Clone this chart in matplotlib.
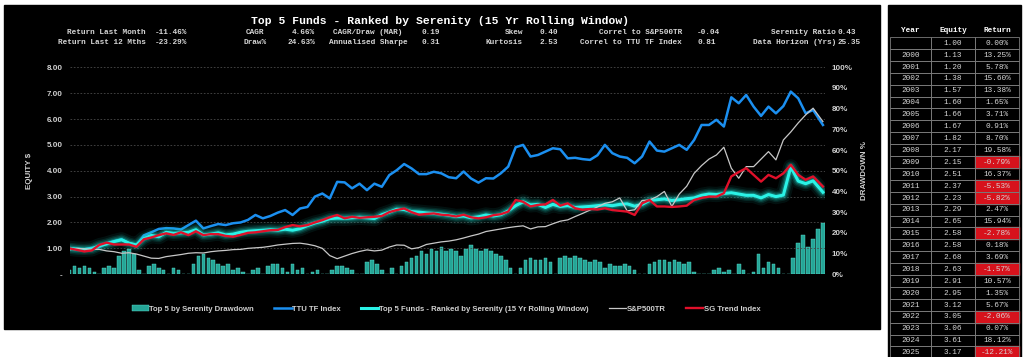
import numpy as np
import matplotlib.pyplot as plt
from matplotlib.patches import Rectangle
from matplotlib.ticker import FuncFormatter, MultipleLocator

# quarterly equity, 2000.00 .. 2025.00, then last point (Apr 2025)
serenity = [1.00, 0.97, 0.96, 0.98, 1.10, 1.17, 1.26, 1.33, 1.20, 1.13, 1.38, 1.50,
            1.45, 1.62, 1.58, 1.60, 1.62, 1.72, 1.52, 1.55, 1.60, 1.52, 1.55, 1.62,
            1.66, 1.68, 1.70, 1.72, 1.70, 1.74, 1.70, 1.76, 1.88, 1.98, 2.05, 2.15,
            2.17, 2.16, 2.18, 2.20, 2.18, 2.15, 2.30, 2.40, 2.51, 2.50, 2.42, 2.40,
            2.37, 2.35, 2.32, 2.28, 2.23, 2.25, 2.18, 2.22, 2.29, 2.25, 2.30, 2.45,
            2.65, 2.80, 2.68, 2.70, 2.58, 2.70, 2.62, 2.65, 2.58, 2.60, 2.62, 2.65,
            2.68, 2.65, 2.70, 2.72, 2.63, 2.70, 2.85, 2.88, 2.91, 2.85, 2.88, 2.92,
            2.95, 3.05, 3.10, 3.08, 3.12, 3.15, 3.10, 3.05, 3.05, 2.95, 3.08, 3.00,
            3.06, 4.15, 3.60, 3.50, 3.61, 3.17]
ttu_index = [1.00, 0.97, 0.96, 1.02, 1.05, 1.20, 1.28, 1.35, 1.20, 1.13, 1.50, 1.62,
             1.75, 1.78, 1.77, 1.73, 1.90, 2.07, 1.77, 1.86, 1.94, 1.90, 1.97, 2.00,
             2.10, 2.29, 2.16, 2.25, 2.38, 2.48, 2.29, 2.54, 2.60, 3.00, 3.12, 2.93,
             3.57, 3.55, 3.32, 3.50, 3.25, 3.50, 3.38, 3.83, 4.02, 4.26, 4.09, 3.87,
             3.87, 3.96, 3.90, 3.75, 3.71, 3.97, 3.70, 3.54, 3.71, 3.70, 3.90, 4.16,
             4.91, 5.00, 4.55, 4.61, 4.74, 4.87, 4.83, 4.48, 4.50, 4.45, 4.42, 4.60,
             5.00, 4.68, 4.55, 4.50, 4.29, 4.55, 5.13, 4.78, 4.74, 4.87, 5.00, 4.81,
             5.19, 5.77, 5.77, 5.97, 5.71, 6.84, 6.61, 6.93, 6.48, 6.12, 6.48, 6.22,
             6.50, 7.06, 6.80, 6.22, 6.35, 5.77]
sp500tr = [0.94, 1.00, 0.98, 0.96, 0.96, 0.90, 0.87, 0.81, 0.83, 0.78, 0.70, 0.62,
           0.61, 0.68, 0.72, 0.76, 0.81, 0.83, 0.82, 0.87, 0.90, 0.92, 0.95, 0.96,
           1.00, 1.02, 1.04, 1.08, 1.13, 1.16, 1.19, 1.20, 1.16, 1.10, 1.00, 0.72,
           0.60, 0.70, 0.80, 0.88, 0.94, 0.90, 0.93, 1.05, 1.13, 1.12, 0.98, 1.03,
           1.15, 1.20, 1.25, 1.28, 1.33, 1.40, 1.48, 1.55, 1.65, 1.70, 1.75, 1.80,
           1.84, 1.87, 1.75, 1.83, 1.84, 1.95, 2.05, 2.10, 2.23, 2.35, 2.48, 2.60,
           2.74, 2.80, 2.95, 2.45, 2.49, 2.85, 2.87, 3.00, 3.20, 2.62, 3.10, 3.40,
           3.90, 4.20, 4.45, 4.61, 4.91, 4.10, 3.71, 4.16, 4.16, 4.45, 4.74, 4.42,
           5.19, 5.50, 5.85, 6.16, 6.42, 5.90]
sg_trend = [1.00, 0.94, 0.88, 0.92, 1.13, 1.22, 1.15, 1.15, 1.15, 1.06, 1.35, 1.42,
            1.51, 1.58, 1.52, 1.62, 1.51, 1.66, 1.51, 1.55, 1.55, 1.48, 1.45, 1.52,
            1.60, 1.62, 1.66, 1.70, 1.71, 1.82, 1.90, 1.85, 1.90, 2.00, 2.09, 2.20,
            2.29, 2.16, 2.22, 2.18, 2.20, 2.22, 2.25, 2.40, 2.48, 2.54, 2.40, 2.30,
            2.33, 2.35, 2.30, 2.28, 2.23, 2.30, 2.20, 2.16, 2.20, 2.28, 2.32, 2.42,
            2.87, 2.80, 2.62, 2.68, 2.70, 2.87, 2.65, 2.74, 2.55, 2.49, 2.52, 2.50,
            2.55, 2.48, 2.45, 2.42, 2.29, 2.74, 2.87, 2.62, 2.62, 2.60, 2.62, 2.65,
            2.87, 2.95, 3.00, 3.00, 3.13, 3.78, 3.95, 4.10, 3.84, 3.58, 3.84, 3.71,
            3.90, 4.23, 3.84, 3.65, 3.78, 3.39]

# drawdown % of the top 5 portfolio, every two months from 2000
drawdown = [2, 4, 3, 4, 3, 1, 0, 3, 4, 3, 9, 11, 12, 10, 2, 0, 4, 5,
            3, 2, 0, 3, 2, 0, 0, 5, 9, 10, 8, 7, 5, 4, 5, 2, 3, 1,
            0, 2, 3, 0, 4, 5, 5, 3, 1, 5, 2, 3, 0, 1, 2, 0, 0, 2,
            4, 4, 3, 2, 0, 0, 6, 7, 5, 2, 0, 3, 0, 4, 6, 8, 9, 11,
            10, 12, 11, 13, 11, 12, 11, 9, 12, 14, 12, 11, 12, 11, 10, 9, 7, 3,
            0, 3, 7, 8, 7, 7, 8, 6, 0, 8, 9, 8, 9, 8, 7, 6, 7, 6,
            3, 5, 4, 4, 5, 4, 2, 0, 0, 5, 6, 7, 7, 6, 7, 6, 5, 6,
            1, 0, 0, 0, 2, 3, 1, 2, 0, 5, 2, 0, 1, 10, 3, 6, 5, 3,
            0, 0, 8, 15, 19, 13, 17, 22, 24.6]

table_years = [''] + [str(y) for y in range(2000, 2026)]
table_equity = [1.00, 1.13, 1.20, 1.38, 1.57, 1.60, 1.66, 1.67, 1.82, 2.17, 2.15, 2.51,
                2.37, 2.23, 2.29, 2.65, 2.58, 2.58, 2.68, 2.63, 2.91, 2.95, 3.12, 3.05,
                3.06, 3.61, 3.17]
table_return = [0.00, 13.25, 5.78, 15.60, 13.38, 1.65, 3.71, 0.91, 8.70, 19.58, -0.79,
                16.37, -5.53, -5.82, 2.47, 15.94, -2.78, 0.18, 3.69, -1.57, 10.57, 1.35,
                5.67, -2.06, 0.07, 18.12, -12.21]

stat_labels = [['Return Last Month', 'CAGR', 'CAGR/Draw (MAR)', 'Skew',
                'Correl to S&P500TR', 'Serenity Ratio'],
               ['Return Last 12 Mths', 'Draw%', 'Annualised Sharpe', 'Kurtosis',
                'Correl to TTU TF Index', 'Data Horizon (Yrs)']]
stat_values = [['-11.46%', '4.66%', '0.19', '0.40', '-0.04', '0.43'],
               ['-23.29%', '24.63%', '0.31', '2.53', '0.81', '25.35']]

title = 'Top 5 Funds - Ranked by Serenity (15 Yr Rolling Window)'

W, H = 1024, 357
fig = plt.figure(figsize=(W / 100, H / 100), dpi=100, facecolor='white')

# background panels, stats and the table are drawn in pixel coords
bg = fig.add_axes([0, 0, 1, 1])
bg.set_xlim(0, W)
bg.set_ylim(H, 0)
bg.axis('off')
bg.set_zorder(-1)
bg.add_patch(Rectangle((4, 5), 876, 324, color='black'))
bg.add_patch(Rectangle((888, 5), 133, 352, color='black'))

mono = 'Liberation Mono'
grey = '#d6d6d6'
bg.text(440, 21, title, family=mono, weight='bold', size=8.2, color='white',
        ha='center', va='center')
lab_x = [(146, 'right'), (255, 'center'), (368, 'center'), (523, 'right'),
         (682, 'right'), (836, 'right')]
val_x = [(155, 'left'), (315, 'right'), (422, 'left'), (540, 'left'),
         (697, 'left'), (838, 'left')]
for r, y in enumerate([32.5, 42.5]):
    for c in range(6):
        bg.text(lab_x[c][0], y, stat_labels[r][c], family=mono, weight='bold',
                size=5.6, color=grey, ha=lab_x[c][1], va='center')
        bg.text(val_x[c][0], y, stat_values[r][c], family=mono, weight='bold',
                size=5.6, color=grey, ha=val_x[c][1], va='center')

# table
cols = [890, 931, 975, 1019]
for j, name in enumerate(['Year', 'Equity', 'Return']):
    bg.text((cols[j] + cols[j + 1]) / 2, 30.5, name, family=mono, weight='bold',
            size=5.6, color='white', ha='center', va='center')
pitch = 11.9
for i in range(len(table_years)):
    yc = 43.0 + pitch * i
    top = yc - pitch / 2
    if table_return[i] < 0:
        bg.add_patch(Rectangle((cols[2], top), cols[3] - cols[2], pitch,
                               color='#d7121c', zorder=1))
    for j in range(3):
        bg.add_patch(Rectangle((cols[j], top), cols[j + 1] - cols[j], pitch,
                               fill=False, ec='#7a7a7a', lw=0.6, zorder=2))
    cells = [table_years[i], f'{table_equity[i]:.2f}', f'{table_return[i]:.2f}%']
    for j in range(3):
        bg.text((cols[j] + cols[j + 1]) / 2, yc + 0.3, cells[j], family=mono,
                size=5.6, color=grey, ha='center', va='center', zorder=3)

# main chart
t_q = np.append(2000 + np.arange(len(serenity) - 1) * 0.25, 2025.33)
t_dd = 2000 + np.arange(len(drawdown)) / 6

left, right = 69.5 / W, 825 / W
bottom, top = 1 - 274.2 / H, 1 - 67.3 / H
ax2 = fig.add_axes([left, bottom, right - left, top - bottom])
ax = ax2.twinx()
ax.set_zorder(ax2.get_zorder() + 1)
ax.patch.set_visible(False)
ax2.patch.set_visible(False)
ax.yaxis.tick_left()
ax.yaxis.set_label_position('left')
ax2.yaxis.tick_right()
ax2.yaxis.set_label_position('right')

bars = ax2.bar(t_dd, drawdown, width=0.12, color='#25a597', edgecolor='#5ee0d0',
               linewidth=0.3, label='Top 5 by Serenity Drawdown')
ax2.set_ylim(0, 100)
ax2.yaxis.set_major_locator(MultipleLocator(10))
ax2.yaxis.set_major_formatter(FuncFormatter(lambda v, p: f'{v:.0f}%'))

l_ttu, = ax.plot(t_q, ttu_index, color='#1b8ff0', lw=1.8, label='TTU TF Index')
for w, a in [(11, 0.08), (8, 0.12), (6, 0.18), (4, 0.3)]:
    ax.plot(t_q, serenity, color='#1fd8cc', lw=w, alpha=a, solid_capstyle='round')
l_ser, = ax.plot(t_q, serenity, color='#2af2e6', lw=2.2,
                 label='Top 5 Funds - Ranked by Serenity (15 Yr Rolling Window)')
l_sp, = ax.plot(t_q, sp500tr, color='#c8c8c8', lw=0.9, label='S&P500TR')
l_sg, = ax.plot(t_q, sg_trend, color='#e0102a', lw=1.7, label='SG Trend Index')

ax.set_ylim(0, 8)
ax.set_xlim(2000, 2025.4)
ax.yaxis.set_major_locator(MultipleLocator(1))
ax.yaxis.set_major_formatter(FuncFormatter(lambda v, p: '-' if v == 0 else f'{v:.2f}'))
ax.set_xticks(range(2000, 2026))
ax.grid(True, color='#4a4a4a', ls=(0, (2, 2)), lw=0.6)

tick_font = dict(family='Liberation Sans', weight='bold', size=5.8)
for a in (ax, ax2):
    for s in a.spines.values():
        s.set_visible(False)
    a.tick_params(colors='#d0d0d0', length=0, pad=5)
    for lbl in a.get_xticklabels() + a.get_yticklabels():
        lbl.set(**tick_font)
ax2.tick_params(axis='x', labelbottom=False)
for lbl in ax.get_xticklabels():
    lbl.set(**tick_font)
ax.tick_params(axis='x', labelbottom=True, pad=6)
ax.set_ylabel('EQUITY $', color='#d0d0d0', labelpad=10, **tick_font)
ax2.set_ylabel('DRAWDOWN %', color='#d0d0d0', labelpad=6, **tick_font)

leg = fig.legend([bars, l_ttu, l_ser, l_sp, l_sg],
                 [h.get_label() for h in [bars, l_ttu, l_ser, l_sp, l_sg]],
                 loc='center', bbox_to_anchor=(446 / W, 1 - 309 / H), ncol=5,
                 frameon=False, handlelength=2.2, handletextpad=0.1,
                 columnspacing=2.6, prop=dict(family='Liberation Sans',
                                              weight='bold', size=5.6))
for txt in leg.get_texts():
    txt.set_color('#d0d0d0')

fig.savefig('out.png', dpi=100, facecolor='white')
